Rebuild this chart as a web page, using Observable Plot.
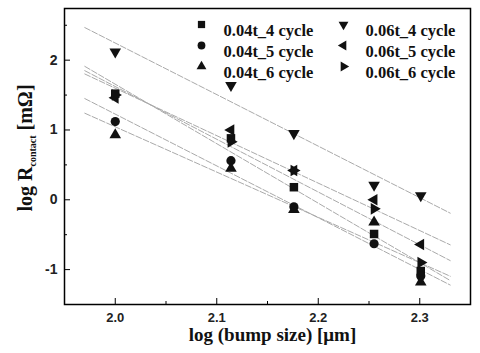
<!DOCTYPE html>
<html><head><meta charset="utf-8">
<script src="https://cdn.jsdelivr.net/npm/d3@7"></script>
<script src="https://cdn.jsdelivr.net/npm/@observablehq/plot@0.6"></script>
<style>body{margin:0;background:#fff}</style>
</head><body><div id="chart"></div>
<script>
// Data
const bumpLog = [2.0, 2.114, 2.176, 2.255, 2.301];
const seriesNames = ["0.04t_4 cycle", "0.04t_5 cycle", "0.04t_6 cycle", "0.06t_4 cycle", "0.06t_5 cycle", "0.06t_6 cycle"];
const s004_4 = [1.52, 0.88, 0.18, -0.49, -1.02];
const s004_5 = [1.12, 0.56, -0.10, -0.63, -1.09];
const s004_6 = [0.93, 0.45, -0.14, -0.32, -1.18];
const s006_4 = [2.12, 1.64, 0.95, 0.21, 0.06];
const s006_5 = [1.46, 1.00, 0.42, 0.00, -0.64];
const s006_6 = [1.50, 0.83, 0.42, -0.13, -0.90];
const seriesValues = [s004_4, s004_5, s004_6, s006_4, s006_5, s006_6];
const fitExtent = [1.97, 2.33];
const xTicks = [2.0, 2.1, 2.2, 2.3];
const xMinor = [2.05, 2.15, 2.25];
const yTicks = [-1, 0, 1, 2];
const yMinor = [-0.5, 0.5, 1.5, 2.5];
const xTitle = "log (bump size) [μm]";

// styles
const symbols = ["square", "circle", "triangle", "triangle", "triangle", "triangle"];
const rotations = [0, 0, 0, 180, 270, 90];
const radii = [4.8, 4.6, 4.3, 4.3, 4.3, 4.3];

const W = 480, H = 353;
const mL = 64, mR = 10, mT = 8, mB = 49;
const iw = W - mL - mR, ih = H - mT - mB;

const points = [];
const fits = [];
seriesNames.forEach((name, i) => {
  const ys = seriesValues[i];
  ys.forEach((v, j) => points.push({series: i, x: bumpLog[j], y: v}));
  const mx = d3.mean(bumpLog), my = d3.mean(ys);
  const b = d3.sum(bumpLog, (x, j) => (x - mx) * (ys[j] - my)) / d3.sum(bumpLog, x => (x - mx) ** 2);
  const a = my - b * mx;
  fitExtent.forEach(x => fits.push({series: i, x, y: a + b * x}));
});

const serif = "'Liberation Serif', 'Times New Roman', serif";
const sans = "'Liberation Sans', Arial, sans-serif";

const marks = [
  Plot.line(fits, {x: "x", y: "y", z: "series", stroke: "#aaaaaa", strokeWidth: 1, strokeDasharray: "6,2"}),
  Plot.tickX(xTicks, {x: d => d, insetTop: ih - 6, stroke: "#000"}),
  Plot.tickX(xMinor, {x: d => d, insetTop: ih - 3, stroke: "#000"}),
  Plot.tickY(yTicks, {y: d => d, insetRight: iw - 6, stroke: "#000"}),
  Plot.tickY(yMinor, {y: d => d, insetRight: iw - 3, stroke: "#000"}),
  Plot.axisX({ticks: xTicks, tickSize: 0, tickPadding: 8, tickFormat: ".1f", label: null, fontSize: 13, fontWeight: "bold", fontFamily: sans, fill: "#222"}),
  Plot.axisY({ticks: yTicks, tickSize: 0, tickPadding: 7, tickFormat: d => d, label: null, fontSize: 14, fontWeight: "bold", fontFamily: sans, fill: "#222"}),
];
seriesNames.forEach((name, i) => {
  marks.push(Plot.dot(points.filter(p => p.series === i), {x: "x", y: "y", symbol: symbols[i], rotate: rotations[i], r: radii[i], fill: "#111", stroke: "none"}));
});
// legend inside the frame
seriesNames.forEach((name, i) => {
  const col = Math.floor(i / 3), row = i % 3;
  const sx = (col ? 279 : 137), tx = (col ? 301 : 159), dy = 16 + row * 21;
  marks.push(Plot.dot([name], {frameAnchor: "top-left", dx: sx, dy, symbol: symbols[i], rotate: rotations[i], r: radii[i] * 0.85, fill: "#111", stroke: "none"}));
  marks.push(Plot.text([name], {frameAnchor: "top-left", dx: tx, dy, text: d => d, textAnchor: "start", fontSize: 16.5, fontWeight: "bold", fontFamily: serif, fill: "#111"}));
});
marks.push(Plot.text([xTitle], {frameAnchor: "bottom", dx: 5, dy: 36, text: d => d, fontSize: 19, fontWeight: "bold", fontFamily: serif, fill: "#111"}));
marks.push(Plot.frame({stroke: "#000", strokeWidth: 1.5}));

const chart = Plot.plot({
  width: W, height: H,
  marginLeft: mL, marginRight: mR, marginTop: mT, marginBottom: mB,
  x: {domain: [1.95, 2.35]},
  y: {domain: [-1.5, 2.74]},
  style: {background: "#fff"},
  marks
});
const svg = d3.select(chart);
const t = svg.append("text")
  .attr("transform", "translate(32,148) rotate(-90)")
  .attr("text-anchor", "middle")
  .attr("font-family", serif)
  .attr("font-weight", "bold")
  .attr("font-size", 20)
  .attr("fill", "#111");
t.append("tspan").text("log R");
t.append("tspan").attr("font-size", 10).attr("dy", 4).text("contact");
t.append("tspan").attr("dy", -4).text(" [mΩ]");
document.getElementById("chart").appendChild(chart);
</script>
</body></html>
